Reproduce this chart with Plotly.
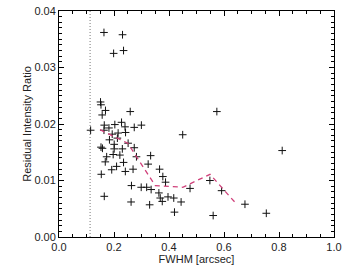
import plotly.graph_objects as go

# Scatter data: FWHM [arcsec] vs residual intensity ratio
fwhm = [0.1635, 0.231, 0.1986, 0.2347, 0.151, 0.1527, 0.169, 0.157, 0.259, 0.115,
        0.1646, 0.203, 0.2274, 0.240, 0.2736, 0.2996, 0.1635, 0.1816, 0.215, 0.242,
        0.1935, 0.1834, 0.2123, 0.2513, 0.2007, 0.158, 0.1527, 0.2007, 0.2303, 0.2736,
        0.197, 0.2213, 0.1733, 0.2816, 0.3332, 0.1682, 0.2347, 0.3242, 0.2094, 0.1917,
        0.2412, 0.2693, 0.3657, 0.1538, 0.3776, 0.3874, 0.2635, 0.2989, 0.3188, 0.335,
        0.3632, 0.1646, 0.3682, 0.3755, 0.3964, 0.4173, 0.444, 0.2621, 0.3296, 0.4199,
        0.4498, 0.574, 0.8116, 0.5487, 0.4765, 0.5913, 0.6762, 0.7538, 0.5606]
ratio = [0.0362, 0.0358, 0.0325, 0.0330, 0.0239, 0.0234, 0.0224, 0.0216, 0.0222, 0.0189,
         0.0198, 0.0199, 0.0203, 0.0195, 0.0194, 0.0198, 0.0189, 0.0193, 0.0184, 0.0185,
         0.0182, 0.0172, 0.0175, 0.0166, 0.0164, 0.0157, 0.0159, 0.0156, 0.0156, 0.0158,
         0.0146, 0.0145, 0.0142, 0.0142, 0.0144, 0.0133, 0.0132, 0.0129, 0.0125, 0.0119,
         0.0116, 0.0120, 0.0120, 0.0111, 0.0107, 0.0097, 0.0091, 0.0088, 0.0088, 0.0084,
         0.0078, 0.0072, 0.0069, 0.0063, 0.0071, 0.0069, 0.0062, 0.0062, 0.0057, 0.0044,
         0.0181, 0.0222, 0.0153, 0.0100, 0.0086, 0.0082, 0.0058, 0.0042, 0.0038]

# Binned trend (dashed line)
bin_fwhm = [0.149, 0.25, 0.35, 0.45, 0.549, 0.648]
bin_ratio = [0.0190, 0.0166, 0.0091, 0.0088, 0.0111, 0.0057]

# Vertical reference line (dotted)
ref_fwhm = [0.113, 0.113]
ref_ratio = [0.0, 0.04]

x_ticks = [0.0, 0.2, 0.4, 0.6, 0.8, 1.0]
x_tick_labels = ["0.0", "0.2", "0.4", "0.6", "0.8", "1.0"]
y_ticks = [0.00, 0.01, 0.02, 0.03, 0.04]
y_tick_labels = ["0.00", "0.01", "0.02", "0.03", "0.04"]

font_family = "Liberation Sans, Arial, Helvetica, sans-serif"

fig = go.Figure()
fig.add_trace(go.Scatter(x=ref_fwhm, y=ref_ratio, mode="lines",
                         line=dict(color="#777777", width=1, dash="1px,2px"),
                         hoverinfo="skip", showlegend=False))
fig.add_trace(go.Scatter(x=fwhm, y=ratio, mode="markers",
                         marker=dict(symbol="cross-thin", size=5.5,
                                     line=dict(color="#111111", width=1)),
                         showlegend=False))
fig.add_trace(go.Scatter(x=bin_fwhm, y=bin_ratio, mode="lines",
                         line=dict(color="#d0407a", width=1.3, dash="5px,4px"),
                         showlegend=False))

axis_common = dict(showgrid=False, zeroline=False, showline=True, linecolor="#000000",
                   linewidth=1, mirror="ticks", ticks="inside", tickcolor="#000000",
                   tickwidth=1, automargin=False,
                   tickfont=dict(family=font_family, size=11, color="#222222"))

fig.update_xaxes(range=[0, 1], tickvals=x_ticks, ticktext=x_tick_labels, ticklen=5,
                 minor=dict(dtick=0.05, ticks="inside", ticklen=3, tickcolor="#000000"),
                 title=dict(text="FWHM [arcsec]", font=dict(family=font_family, size=11, color="#222222"),
                            standoff=0),
                 **axis_common)
fig.update_yaxes(range=[0, 0.04], tickvals=y_ticks, ticktext=y_tick_labels, ticklen=5,
                 minor=dict(dtick=0.001, ticks="inside", ticklen=3, tickcolor="#000000"),
                 title=dict(text="Residual Intensity Ratio", font=dict(family=font_family, size=11, color="#222222"),
                            standoff=0),
                 **axis_common)

fig.update_layout(width=347, height=277, margin=dict(l=59, r=13, t=11, b=40),
                  paper_bgcolor="white", plot_bgcolor="white", showlegend=False)

fig.write_html("out.html", config={"displayModeBar": False},
               post_script="document.body.style.margin='0';")
